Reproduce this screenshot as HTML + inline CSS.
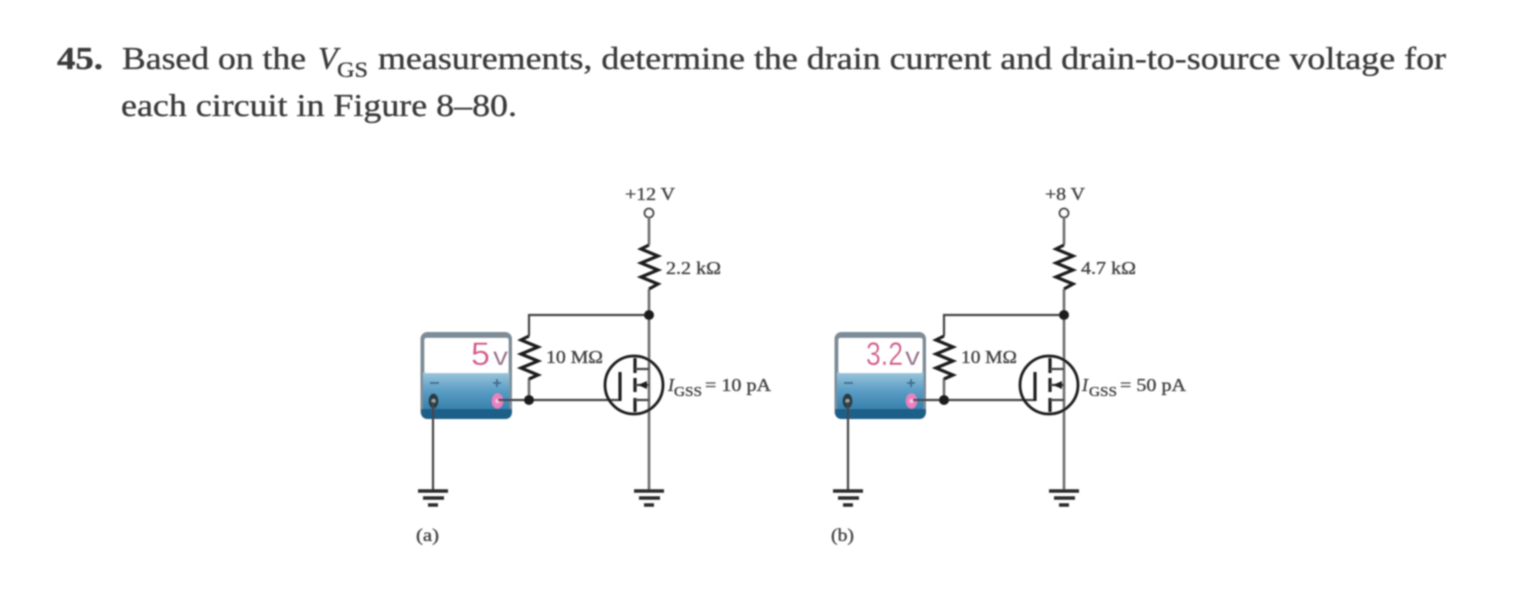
<!DOCTYPE html>
<html><head><meta charset="utf-8"><style>
html,body{margin:0;padding:0;background:#fff;width:1534px;height:610px;overflow:hidden}
svg{display:block}
text{font-family:"Liberation Serif",serif;fill:#3a3a3a;stroke:#3a3a3a;stroke-width:.35px}
.w{fill:none;stroke:#444;stroke-width:2.2}
.v{fill:none;stroke:#6f6f6f;stroke-width:2.6}
.k{fill:none;stroke:#1c1c1c;stroke-width:3.2}
.s{font-size:18px;fill:#444}
.d{fill:#d6568f;stroke:#d6568f;stroke-width:0;font-family:"Liberation Sans",sans-serif}
.u{fill:#97698a;stroke:#97698a;stroke-width:0;font-family:"Liberation Sans",sans-serif}
</style></head><body>
<svg width="1534" height="610" viewBox="0 0 1534 610" xmlns="http://www.w3.org/2000/svg">
<defs>
<filter id="b" x="-5%" y="-5%" width="110%" height="110%"><feGaussianBlur stdDeviation="0.75"/></filter>
<linearGradient id="m" x1="0" y1="0" x2="0" y2="1"><stop offset="0" stop-color="#9cc6dc"/><stop offset=".45" stop-color="#5a9cc4"/><stop offset="1" stop-color="#2f7aa6"/></linearGradient>
<g id="meter">
<rect x="420.500" y="332" width="91.500" height="87" rx="7" fill="#7d8c97"/>
<rect x="423" y="372" width="86.500" height="42" fill="url(#m)"/>
<path d="M421 411q0 8 7 8h77q7 0 7-8v-2h-91z" fill="#1f5f88"/>
<rect x="424.500" y="338" width="84" height="35" rx="2" fill="#fff"/>
<path d="M430 383h9M493 383h8M497 379v8" stroke="#3f6f8f" stroke-width="2" fill="none"/>
<ellipse cx="433.500" cy="401" rx="5" ry="7.500" fill="#2b3a42"/><circle cx="433.500" cy="401" r="2" fill="#9aa"/>
<ellipse cx="497.500" cy="401" rx="5.500" ry="7.500" fill="#ee7fc0"/><circle cx="497.500" cy="401" r="2.200" fill="#f5c4e0"/>
</g>
<g id="c">
<circle cx="649" cy="213" r="4.400" fill="#fff" stroke="#444" stroke-width="2"/>
<path class="v" d="M649 217V245M649 289V491"/>
<path class="k" d="M649 245L641 249L658 256L641 263L658 270L641 277L658 284L649 289"/>
<path class="w" d="M529 336V315H649"/>
<path class="v" d="M529 378V400"/>
<path class="k" d="M529 336L521 340L538 347L521 354L538 361L521 368L538 375L529 379"/>
<path class="w" d="M433 402V491M498 400H620"/>
<path d="M620 372V401" stroke="#1c1c1c" stroke-width="3.200"/>
<circle cx="529" cy="400" r="5" fill="#1c1c1c"/>
<circle cx="649" cy="315" r="5" fill="#1c1c1c"/>
<circle cx="634" cy="385" r="29" fill="none" stroke="#1c1c1c" stroke-width="2.800"/>
<path d="M635 358V373M635 378V392M635 398V412" stroke="#1c1c1c" stroke-width="3.200"/>
<path class="w" d="M635 369H649M635 385H649M635 400H649"/>
<path d="M638 385L647 381V389Z" fill="#1c1c1c"/>
<path d="M418 491H448M634 491H664" stroke="#2c2c2c" stroke-width="3.400"/>
<path d="M423 498H444M639 498H660" stroke="#2c2c2c" stroke-width="3.400"/>
<path d="M428 505H438M644 505H654" stroke="#2c2c2c" stroke-width="3.400"/>
</g>
</defs>
<g filter="url(#b)">
<text x="57" y="69" font-size="32" font-weight="bold" textLength="46" lengthAdjust="spacingAndGlyphs">45.</text>
<text x="122" y="69" font-size="32" textLength="184" lengthAdjust="spacingAndGlyphs">Based on the</text>
<text x="318" y="69" font-size="32" font-style="italic">V</text>
<text x="337" y="77" font-size="22" textLength="31" lengthAdjust="spacingAndGlyphs">GS</text>
<text x="378" y="69" font-size="32" textLength="1068" lengthAdjust="spacingAndGlyphs">measurements, determine the drain current and drain-to-source voltage for</text>
<text x="121" y="116" font-size="32" textLength="396" lengthAdjust="spacingAndGlyphs">each circuit in Figure 8–80.</text>

<use href="#meter"/>
<use href="#meter" x="414"/>
<use href="#c"/>
<use href="#c" x="415"/>

<text class="s" x="625" y="200" textLength="50" lengthAdjust="spacingAndGlyphs">+12 V</text>
<text class="s" x="666" y="274" textLength="55" lengthAdjust="spacingAndGlyphs">2.2 kΩ</text>
<text class="s" x="546" y="363" textLength="57" lengthAdjust="spacingAndGlyphs">10 MΩ</text>
<text class="s" x="668" y="391" font-style="italic">I</text>
<text x="674" y="396" font-size="14" fill="#444" textLength="28" lengthAdjust="spacingAndGlyphs">GSS</text>
<text class="s" x="705" y="391" textLength="66" lengthAdjust="spacingAndGlyphs">= 10 pA</text>
<text class="s" x="416" y="541" textLength="23" lengthAdjust="spacingAndGlyphs">(a)</text>

<text class="s" x="1045" y="200" textLength="40" lengthAdjust="spacingAndGlyphs">+8 V</text>
<text class="s" x="1081" y="274" textLength="55" lengthAdjust="spacingAndGlyphs">4.7 kΩ</text>
<text class="s" x="961" y="363" textLength="56" lengthAdjust="spacingAndGlyphs">10 MΩ</text>
<text class="s" x="1082" y="391" font-style="italic">I</text>
<text x="1089" y="396" font-size="14" fill="#444" textLength="28" lengthAdjust="spacingAndGlyphs">GSS</text>
<text class="s" x="1120" y="391" textLength="66" lengthAdjust="spacingAndGlyphs">= 50 pA</text>
<text class="s" x="831" y="541" textLength="23" lengthAdjust="spacingAndGlyphs">(b)</text>

<text class="d" x="471" y="365" font-size="32" textLength="19" lengthAdjust="spacingAndGlyphs">5</text>
<text class="u" x="493" y="365" font-size="26" textLength="15" lengthAdjust="spacingAndGlyphs">v</text>
<text class="d" x="866" y="365" font-size="32" textLength="37" lengthAdjust="spacingAndGlyphs">3.2</text>
<text class="u" x="905" y="365" font-size="26" textLength="15" lengthAdjust="spacingAndGlyphs">v</text>
</g>
</svg>
</body></html>
